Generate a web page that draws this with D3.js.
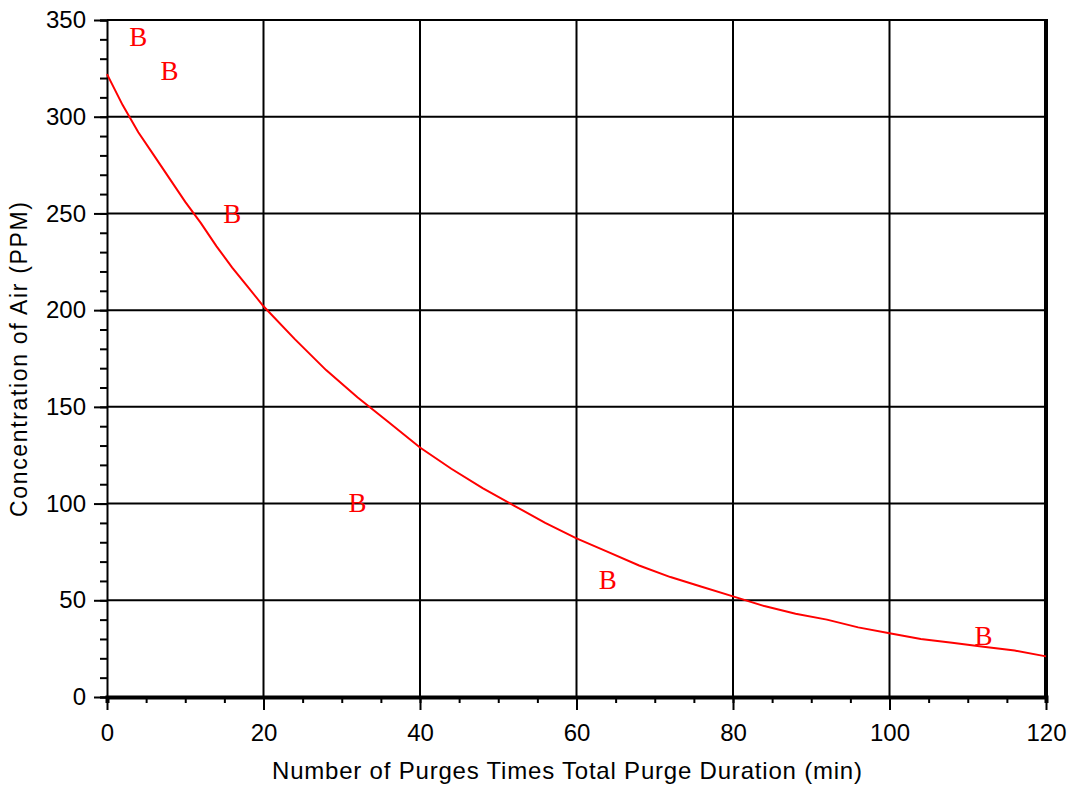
<!DOCTYPE html>
<html>
<head>
<meta charset="utf-8">
<script src="https://cdn.jsdelivr.net/npm/d3@7"></script>
<style>
  body { margin: 0; background: #fff; }
  text { font-family: "Liberation Sans", Arial, sans-serif; }
</style>
</head>
<body>
<div id="chart"></div>
<script>
// curve
var curveX = [0, 2, 4, 6, 8, 10, 12, 14, 16, 18, 20, 24, 28, 32, 36, 40, 44, 48, 52, 56, 60,
  64, 68, 72, 76, 80, 84, 88, 92, 96, 100, 104, 108, 112, 116, 120];
var curveY = [322, 306, 292, 280, 268, 256, 245, 233, 222, 212, 202, 185, 169, 155, 142, 129, 118, 108, 99, 90, 82,
  75, 68, 62, 57, 52, 47, 43, 40, 36, 33, 30, 28, 26, 24, 21];

// measured points ("B" markers)
var pointX = [4, 8, 16, 32, 64, 112];
var pointY = [341, 323, 249, 100, 60, 31];

var xTicks = [0, 20, 40, 60, 80, 100, 120];
var yTicks = [0, 50, 100, 150, 200, 250, 300, 350];

var xTitle = "Number of Purges Times Total Purge Duration (min)";
var yTitle = "Concentration of Air (PPM)";

var margin = { left: 107, right: 27, top: 20, bottom: 95 };
var width = 1073 - margin.left - margin.right;
var height = 792 - margin.top - margin.bottom;

var svg = d3.select("#chart").append("svg")
  .attr("width", 1073)
  .attr("height", 792)
  .append("g")
  .attr("transform", "translate(" + margin.left + "," + margin.top + ")");

var xScale = d3.scaleLinear().domain([0, 120]).range([0, width]);
var yScale = d3.scaleLinear().domain([0, 350]).range([height, 0]);

/* grid */
svg.append("g").selectAll("line")
  .data(xTicks.slice(1, -1)).enter()
  .append("line")
  .attr("x1", d => xScale(d)).attr("x2", d => xScale(d))
  .attr("y1", 0).attr("y2", height)
  .attr("stroke", "#000").attr("stroke-width", 2);

svg.append("g").selectAll("line")
  .data(yTicks.slice(1)).enter()
  .append("line")
  .attr("x1", 0).attr("x2", width)
  .attr("y1", d => yScale(d)).attr("y2", d => yScale(d))
  .attr("stroke", "#000").attr("stroke-width", 2);

/* right border */
svg.append("line")
  .attr("x1", width).attr("x2", width)
  .attr("y1", -1).attr("y2", height)
  .attr("stroke", "#000").attr("stroke-width", 4);

/* axes */
var xAxis = svg.append("g")
  .attr("transform", "translate(0," + height + ")")
  .call(d3.axisBottom(xScale).tickValues(d3.range(0, 121, 5)).tickSize(6).tickFormat(""));
xAxis.select(".domain").attr("stroke-width", 4);
xAxis.selectAll(".tick line").attr("stroke-width", 2);

svg.append("g")
  .attr("transform", "translate(0," + height + ")")
  .call(d3.axisBottom(xScale).tickValues(xTicks).tickSize(13).tickPadding(14))
  .call(g => g.select(".domain").remove())
  .call(g => g.selectAll(".tick line").attr("stroke-width", 2))
  .selectAll("text")
  .attr("font-size", "24px")
  .attr("font-family", "Liberation Sans, Arial, sans-serif")
  .attr("fill", "#000");

var yAxis = svg.append("g")
  .call(d3.axisLeft(yScale).tickValues(d3.range(0, 351, 10)).tickSize(7).tickFormat(""));
yAxis.select(".domain").attr("stroke-width", 2);
yAxis.selectAll(".tick line").attr("stroke-width", 2);

svg.append("g")
  .call(d3.axisLeft(yScale).tickValues(yTicks).tickSize(13).tickPadding(8))
  .call(g => g.select(".domain").remove())
  .call(g => g.selectAll(".tick line").attr("stroke-width", 2))
  .selectAll("text")
  .attr("font-size", "24px")
  .attr("font-family", "Liberation Sans, Arial, sans-serif")
  .attr("fill", "#000");

/* curve */
var line = d3.line()
  .x(d => xScale(d[0]))
  .y(d => yScale(d[1]));

svg.append("path")
  .datum(d3.zip(curveX, curveY))
  .attr("d", line)
  .attr("fill", "none")
  .attr("stroke", "#ff0000")
  .attr("stroke-width", 2);

/* B markers */
svg.append("g").selectAll("text")
  .data(d3.zip(pointX, pointY)).enter()
  .append("text")
  .attr("x", d => xScale(d[0]))
  .attr("y", d => yScale(d[1]))
  .attr("dy", "0.3em")
  .attr("text-anchor", "middle")
  .style("font-family", "Liberation Serif, Times New Roman, serif")
  .style("font-size", "27px")
  .attr("fill", "#ff0000")
  .text("B");

/* titles */
svg.append("text")
  .attr("x", 460)
  .attr("y", height + 82)
  .attr("text-anchor", "middle")
  .attr("font-size", "24px")
  .attr("textLength", 590)
  .text(xTitle);

svg.append("text")
  .attr("transform", "rotate(-90)")
  .attr("x", -(height / 2) - 1)
  .attr("y", -80)
  .attr("text-anchor", "middle")
  .attr("font-size", "23px")
  .attr("textLength", 315)
  .text(yTitle);
</script>
</body>
</html>
